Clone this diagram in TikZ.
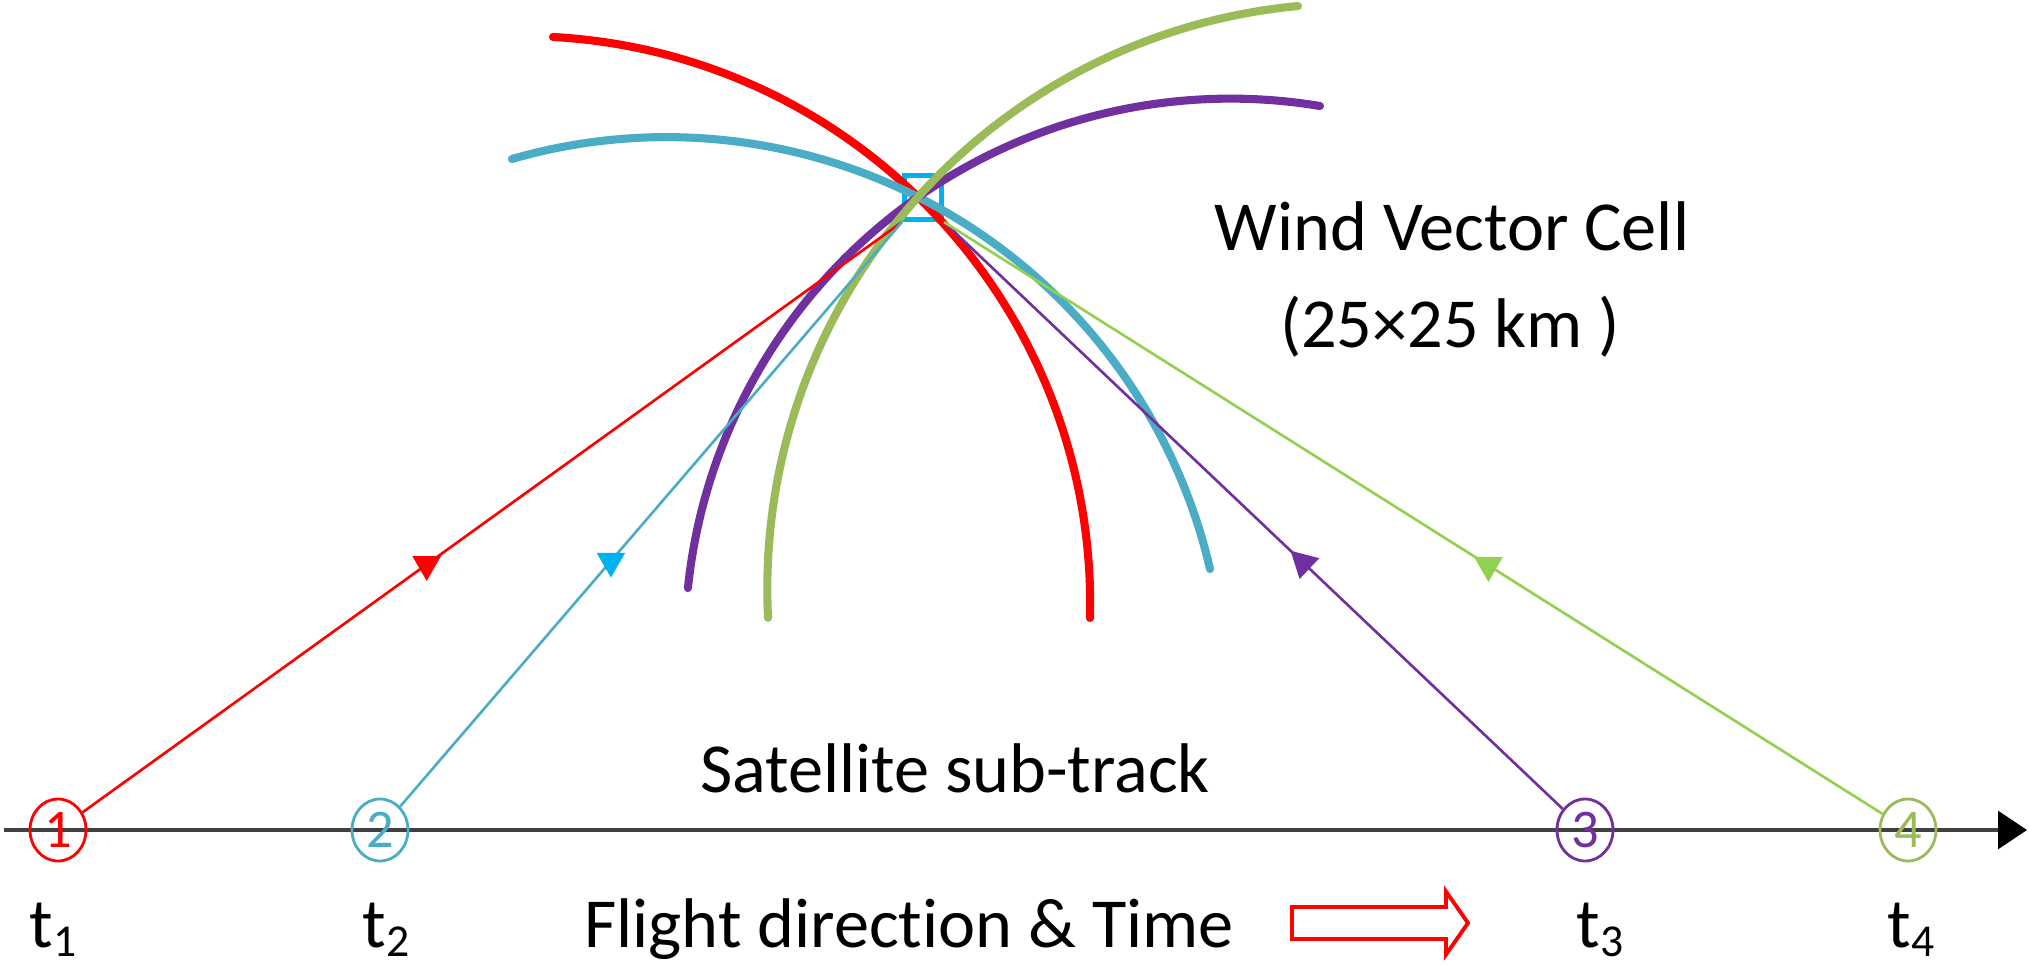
\documentclass[tikz,border=0pt]{standalone}
\usepackage{fontspec}
\setmainfont{Carlito}[Ligatures=NoCommon]
\usepackage{xcolor}
\usepackage{tikz}
\usetikzlibrary{arrows.meta,decorations.markings,shapes.geometric,positioning}

\definecolor{passred}{HTML}{FF0000}
\definecolor{passcyan}{HTML}{4BACC6}
\definecolor{cellblue}{HTML}{00B0F0}
\definecolor{passpurple}{HTML}{7030A0}
\definecolor{passgreen}{HTML}{9BBB59}
\definecolor{beamgreen}{HTML}{92D050}
\definecolor{trackgray}{HTML}{404040}

\newcommand{\tstamp}[1]{t\raisebox{-2.6pt}{\fontsize{13}{13}\selectfont #1}}

\begin{document}
\begin{tikzpicture}[thick,
   label text/.style={font=\fontsize{20}{24}\selectfont,inner sep=0,anchor=base},
   satellite/.style={ellipse,draw,line width=0.8pt,inner sep=0,minimum width=5.6mm,minimum height=6.2mm,font=\fontsize{15.5}{16}\selectfont},
   wind cell/.style={rectangle,draw=cellblue,line width=1.5pt,inner sep=0,minimum width=3.7mm,minimum height=4.4mm},
   footprint/.style={line width=2.3pt,line cap=round},
   beam/.style={line width=0.75pt},
   down tip/.style={regular polygon,regular polygon sides=3,shape border rotate=180,inner sep=0,minimum size=3.3mm},
   back to sat/.style={postaction={decorate},decoration={markings,mark=at position 0.42 with {\node[down tip,fill=#1]{};}}},
   up to cell/.style={postaction={decorate},decoration={markings,mark=at position 0.44 with {\arrow{Triangle[length=2.6mm,width=2.8mm,color=#1]}}}}]

  \useasboundingbox (0,0) rectangle (20.29,9.66);

  % sub-track
  \draw[trackgray,line width=0.9pt,-{Triangle[length=2.9mm,width=3.8mm,color=black]}] (0.04,1.36) -- (20.27,1.36);

  \node[satellite,passred](s1) at (0.58,1.36) {1};
  \node[satellite,passcyan](s2) at (3.80,1.36) {2};
  \node[satellite,passpurple](s3) at (15.85,1.36) {3};
  \node[satellite,passgreen](s4) at (19.08,1.36) {4};

  \node[label text](t1) at (0.53,0.19) {\tstamp{1}};
  \node[label text](t2) at (3.86,0.19) {\tstamp{2}};
  \node[label text](t3) at (16.00,0.19) {\tstamp{3}};
  \node[label text](t4) at (19.11,0.19) {\tstamp{4}};

  \node[wind cell](cell) at (9.23,7.685) {};

  % footprints
  \foreach \cx/\cy/\rad/\a/\b/\col in {5.218/3.615/5.684/86.85/-1.36/passred,
      6.666/2.711/5.578/106.1/13.04/passcyan,
      12.305/3.219/5.455/174.1/80.56/passpurple,
      13.531/3.768/5.858/182.8/95.4/passgreen}
    \draw[footprint,\col] ([shift={(\a:\rad)}]\cx,\cy) arc[start angle=\a,end angle=\b,radius=\rad];

  % beams
  \draw[beam,passred,back to sat=passred] (s1) -- (cell.south west);
  \draw[beam,passcyan,back to sat=cellblue] (s2) -- (cell.south west);
  \draw[beam,passpurple,up to cell=passpurple] (s3) -- (cell.south east);
  \draw[beam,beamgreen,back to sat=beamgreen] (s4) -- (cell.south east);

  \node[label text](wvc) at (14.52,7.16) {Wind Vector Cell};
  \node[label text](size) at (14.50,6.19) {(25×25 km )};
  \node[label text](track) at (9.55,1.74) {Satellite sub-track};
  \node[label text](flight) at (9.09,0.19) {Flight direction \& Time};

  % direction arrow
  \draw[passred,line width=1.1pt] (12.92,0.27) -- (14.46,0.27) -- (14.46,0.115) -- (14.68,0.43)
    -- (14.46,0.745) -- (14.46,0.59) -- (12.92,0.59) -- cycle;
\end{tikzpicture}
\end{document}
